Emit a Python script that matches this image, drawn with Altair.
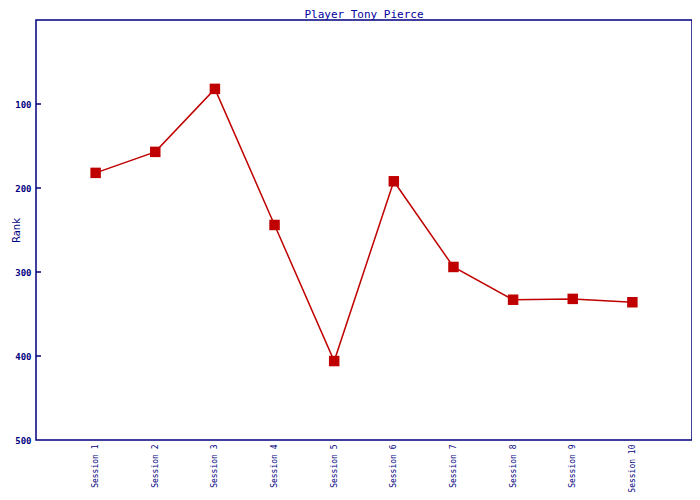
import altair as alt
import pandas as pd

sessions = ["Session 1", "Session 2", "Session 3", "Session 4", "Session 5",
            "Session 6", "Session 7", "Session 8", "Session 9", "Session 10"]
ranks = [182, 157, 82, 244, 406, 192, 294, 333, 332, 336]
y_ticks = [100, 200, 300, 400, 500]
inner_ticks = [100, 200, 300, 400]

NAVY = "#000080"
RED = "#C00000"

df = pd.DataFrame({"session": sessions, "rank": ranks})
tdf = pd.DataFrame({"t": inner_ticks})

yscale = alt.Scale(domain=[0, 500], reverse=True, nice=False, zero=False)
xscale = alt.Scale(type="point", padding=1)

x_enc = alt.X("session:N", sort=sessions, scale=xscale,
              axis=alt.Axis(title=None, labelAngle=270, ticks=False, domain=False,
                            labelPadding=4, labelFont="DejaVu Sans Mono",
                            labelFontSize=8, labelColor=NAVY, grid=False))
y_enc = alt.Y("rank:Q", scale=yscale,
              axis=alt.Axis(title="Rank", values=y_ticks, ticks=False, domain=False,
                            grid=False, labelPadding=5, labelFont="DejaVu Sans Mono",
                            labelFontSize=9, labelFontWeight="bold", labelColor=NAVY,
                            titleFont="DejaVu Sans", titleFontSize=10,
                            titleFontWeight="normal", titleColor=NAVY,
                            titleAngle=270, titleX=-20, titleY=210,
                            titleAlign="center", titleBaseline="middle"))

line = alt.Chart(df).mark_line(color=RED, strokeWidth=1.5).encode(x=x_enc, y=y_enc)
pts = alt.Chart(df).mark_square(color=RED, size=110, opacity=1).encode(x=x_enc, y=y_enc)
ticks = alt.Chart(tdf).mark_rule(color=NAVY, strokeWidth=1.5).encode(
    y=alt.Y("t:Q", scale=yscale), x=alt.value(0), x2=alt.value(5))

chart = alt.layer(ticks, line, pts).properties(
    width=656, height=420,
    title=alt.TitleParams("Player Tony Pierce", font="DejaVu Sans Mono", fontSize=11,
                          fontWeight="normal", color="#0000A0", anchor="middle",
                          offset=0),
    autosize=alt.AutoSizeParams(type="none"),
    padding={"left": 28, "top": 12, "right": 0, "bottom": 52},
    background="white",
).configure_view(stroke=NAVY, strokeWidth=1.5)

chart.save("out.html", embed_options={"renderer": "svg", "actions": False})
